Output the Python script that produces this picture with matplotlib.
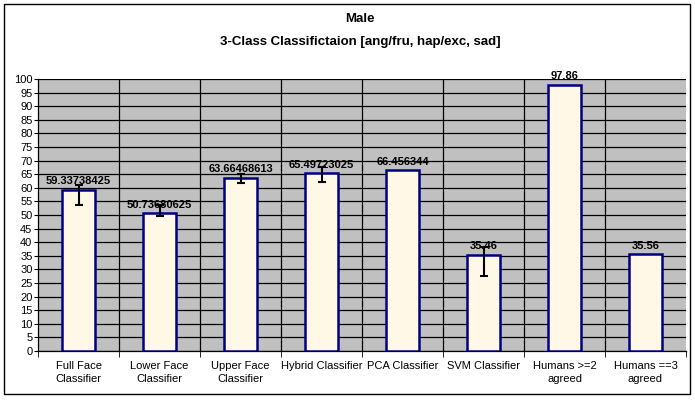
import numpy as np
import matplotlib.pyplot as plt
from matplotlib.patches import Rectangle

plt.rcParams['font.family'] = ['Liberation Sans', 'DejaVu Sans']

# chart data
categories = ["Full Face\nClassifier", "Lower Face\nClassifier", "Upper Face\nClassifier",
              "Hybrid Classifier", "PCA Classifier", "SVM Classifier",
              "Humans >=2\nagreed", "Humans ==3\nagreed"]
values = [59.33738425, 50.73680625, 63.66468613, 65.49723025, 66.456344, 35.46, 97.86, 35.56]
value_labels = ["59.33738425", "50.73680625", "63.66468613", "65.49723025",
                "66.456344", "35.46", "97.86", "35.56"]
err_low = [5.8, 1.1, 1.9, 3.4, 0.0, 7.9, 0.0, 0.0]
err_high = [1.8, 3.0, 1.4, 2.0, 0.0, 2.7, 0.0, 0.0]
has_err = [True, True, True, True, False, True, False, False]
yticks = list(range(0, 101, 5))

fig = plt.figure(figsize=(6.95, 4.01), dpi=100)
ax = fig.add_axes([38 / 695, 50 / 401, 648 / 695, 272 / 401])

# outer chart border
fig.patches.append(Rectangle((4 / 695, 7 / 401), 686 / 695, 390 / 401,
                             transform=fig.transFigure, fill=False,
                             edgecolor="black", linewidth=1))

ax.set_facecolor("#C0C0C0")
x = np.arange(len(categories))
ax.bar(x, values, width=0.4, color="#FFF8E6", edgecolor="#000080", linewidth=1.8, zorder=3)

idx = [i for i in range(len(values)) if has_err[i]]
ax.errorbar(x[idx], [values[i] for i in idx],
            yerr=[[err_low[i] for i in idx], [err_high[i] for i in idx]],
            fmt="none", ecolor="black", elinewidth=1.5, capsize=3, capthick=1.5, zorder=4)

for xi, v, lab in zip(x, values, value_labels):
    ax.annotate(lab, (xi, v), xytext=(0, 6), textcoords="offset points",
                ha="center", va="center", fontsize=8, fontweight="bold", zorder=5)

ax.set_xlim(-0.5, len(categories) - 0.5)
ax.set_ylim(0, 100)
ax.set_yticks(yticks)
ax.tick_params(axis="y", labelsize=8, length=3, direction="out", pad=1)

# category boundaries as vertical grid lines
bounds = np.arange(len(categories) + 1) - 0.5
ax.set_xticks(bounds, minor=True)
ax.set_xticks(x)
ax.set_xticklabels(categories, fontsize=8, linespacing=1.35)
ax.tick_params(axis="x", which="major", length=0, pad=7)
ax.tick_params(axis="x", which="minor", length=4, direction="out")
for b in bounds[1:-1]:
    ax.axvline(b, color="black", linewidth=0.9, zorder=1)
ax.yaxis.grid(True, color="black", linewidth=0.9, zorder=1)
ax.set_axisbelow(True)

for s in ["top", "right"]:
    ax.spines[s].set_visible(False)
ax.spines["left"].set_linewidth(0.9)
ax.spines["bottom"].set_linewidth(0.9)

fig.text(360 / 695, 1 - 19 / 401, "Male", ha="center", va="center",
         fontsize=9.5, fontweight="bold")
fig.text(360 / 695, 1 - 42 / 401, "3-Class Classifictaion [ang/fru, hap/exc, sad]",
         ha="center", va="center", fontsize=9.5, fontweight="bold")

fig.savefig("out.png", dpi=100)
